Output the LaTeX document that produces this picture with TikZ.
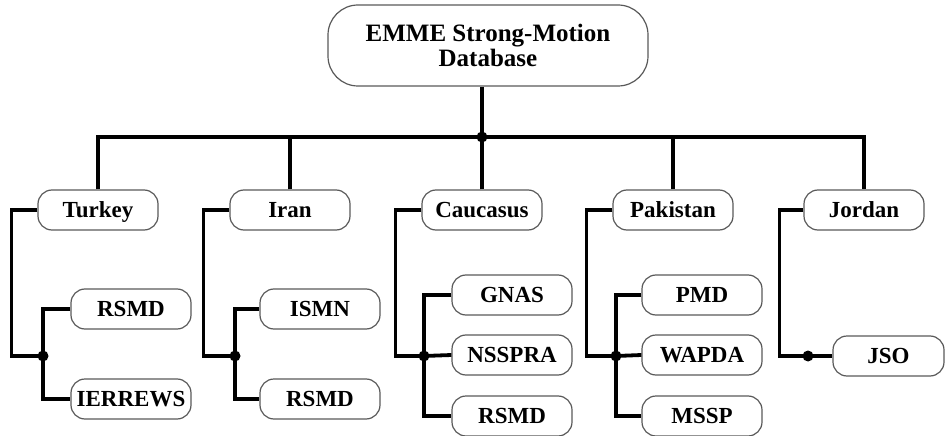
\documentclass[tikz,border=0pt]{standalone}
\usepackage{fontspec}
\setmainfont{Liberation Serif}
\usepackage{tikz}

\begin{document}
\begin{tikzpicture}[x=1pt,y=-1pt]
          \tikzset{
            RootStyle/.style = { rectangle, draw = black!65, line width = 1.2pt,
              rounded corners = 30pt, minimum width = 320pt, minimum height = 81pt,
              align = center, inner sep = 0pt,
              font = \fontsize{25}{25}\selectfont\bfseries },
            BoxStyle/.style = { rectangle, draw = black!65, line width = 1.2pt,
              rounded corners = 14pt, minimum width = 120pt, minimum height = 40pt,
              inner sep = 0pt, text height = 15.5pt, text depth = 0pt,
              font = \fontsize{23}{23}\selectfont\bfseries },
            EdgeStyle/.style = { line width = 3.8pt },
            DotStyle/.style = { circle, fill, inner sep = 0pt, minimum size = 11pt } }

          \useasboundingbox (0,0) rectangle (946,436);

          % \tikzset{BoxStyle/.append style={fill=yellow!50}}
          \node[RootStyle] (EMME) at (488,45.5) {EMME Strong-Motion\\Database};
          \node[BoxStyle] (Turkey) at (98,210) {Turkey};
          \node[BoxStyle] (Iran) at (290,210) {Iran};
          \node[BoxStyle] (Caucasus) at (482,210) {Caucasus};
          \node[BoxStyle] (Pakistan) at (673,210) {Pakistan};
          \node[BoxStyle] (Jordan) at (864,210) {Jordan};

          \node[BoxStyle] (TR-RSMD) at (131,309) {RSMD};
          \node[BoxStyle] (IERREWS) at (131,399) {IERREWS};
          \node[BoxStyle] (ISMN) at (320,309) {ISMN};
          \node[BoxStyle] (IR-RSMD) at (320,399) {RSMD};
          \node[BoxStyle] (GNAS) at (512,295) {GNAS};
          \node[BoxStyle] (NSSPRA) at (512,355) {NSSPRA};
          \node[BoxStyle] (CA-RSMD) at (512,416) {RSMD};
          \node[BoxStyle] (PMD) at (702,295) {PMD};
          \node[BoxStyle] (WAPDA) at (702,355) {WAPDA};
          \node[BoxStyle] (MSSP) at (702,416) {MSSP};
          \node[BoxStyle, minimum width = 111pt] (JSO) at (888.5,356) {JSO};

          \node[DotStyle] (Hub) at (482,137) {};
          \node[DotStyle] (TR-Dot) at (43,356) {};
          \node[DotStyle] (IR-Dot) at (235,356) {};
          \node[DotStyle] (CA-Dot) at (424,356) {};
          \node[DotStyle] (PK-Dot) at (616,356) {};
          \node[DotStyle] (JO-Dot) at (808,356) {};

          % database to countries
          \draw[EdgeStyle] (EMME.south -| Hub) -- (Hub.center);
          \draw[EdgeStyle] (Turkey.north) |- (Hub.center) -| (Jordan.north);
          \draw[EdgeStyle] (Iran.north) -- (Iran.north |- Hub);
          \draw[EdgeStyle] (Caucasus.north) -- (Hub.center);
          \draw[EdgeStyle] (Pakistan.north) -- (Pakistan.north |- Hub);

          % countries to networks
          \draw[EdgeStyle] (Turkey.west) -- ++(-26,0) |- (TR-Dot.center);
          \draw[EdgeStyle] (TR-RSMD.west) -| (TR-Dot.center) |- (IERREWS.west);
          \draw[EdgeStyle] (Iran.west) -- ++(-26,0) |- (IR-Dot.center);
          \draw[EdgeStyle] (ISMN.west) -| (IR-Dot.center) |- (IR-RSMD.west);
          \draw[EdgeStyle] (Caucasus.west) -- ++(-26,0) |- (CA-Dot.center);
          \draw[EdgeStyle] (GNAS.west) -| (CA-Dot.center) |- (CA-RSMD.west);
          \draw[EdgeStyle] (CA-Dot.center) -- (NSSPRA.west);
          \draw[EdgeStyle] (Pakistan.west) -- ++(-26,0) |- (PK-Dot.center);
          \draw[EdgeStyle] (PMD.west) -| (PK-Dot.center) |- (MSSP.west);
          \draw[EdgeStyle] (PK-Dot.center) -- (WAPDA.west);
          \draw[EdgeStyle] (Jordan.west) -- ++(-24,0) |- (JO-Dot.center);
          \draw[EdgeStyle] (JO-Dot.center) -- (JSO.west);
\end{tikzpicture}
\end{document}
